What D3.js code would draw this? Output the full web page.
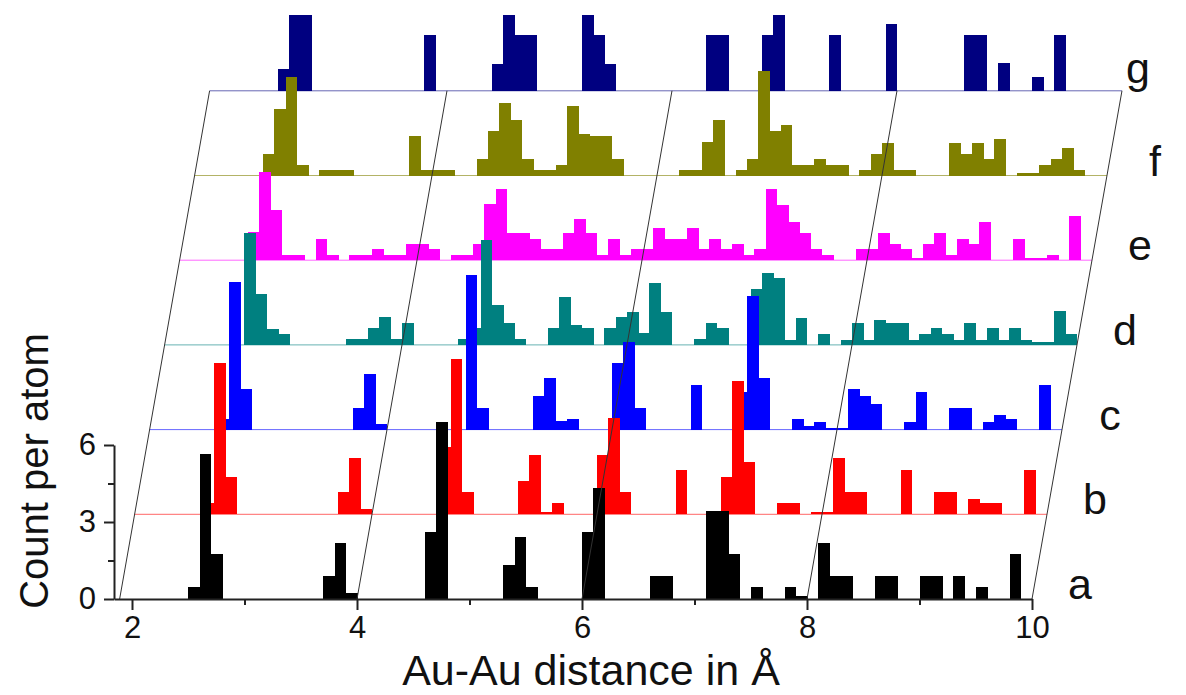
<!DOCTYPE html>
<html>
<head>
<meta charset="utf-8">
<script src="https://cdn.jsdelivr.net/npm/d3@7/dist/d3.min.js"></script>
<style>
  body { margin: 0; background: #fff; }
  text { font-family: "Liberation Sans", Arial, sans-serif; }
</style>
</head>
<body>
<script>
// Au-Au pair distance histograms, bins of 0.1 A, [bin start, count per atom]
const seriesA = [[2.5,0.46],[2.6,5.64],[2.7,1.75],[3.7,0.89],[3.8,2.19],[3.9,0.22],[4.6,2.62],[4.7,6.9],
  [5.3,1.32],[5.4,2.4],[5.5,0.45],[6.0,2.62],[6.1,4.33],[6.6,0.89],[6.7,0.89],[7.1,3.44],[7.2,3.44],
  [7.3,1.75],[7.5,0.45],[7.8,0.45],[7.9,0.12],[8.1,2.19],[8.2,0.89],[8.3,0.89],[8.6,0.89],[8.7,0.89],
  [9.0,0.89],[9.1,0.89],[9.3,0.89],[9.5,0.45],[9.8,1.75]];
const seriesB = [[2.5,0.45],[2.6,5.91],[2.7,1.46],[3.7,0.86],[3.8,2.18],[3.9,0.2],[4.6,2.63],[4.7,6.07],
  [4.8,0.86],[5.3,1.31],[5.4,2.3],[5.5,0.08],[5.6,0.43],[6.0,2.3],[6.1,3.74],[6.2,0.86],[6.7,1.72],
  [7.1,1.46],[7.2,5.19],[7.3,2.05],[7.6,0.43],[7.7,0.43],[7.9,0.08],[8.0,0.08],[8.1,2.18],[8.2,0.86],
  [8.3,0.86],[8.7,1.72],[9.0,0.86],[9.1,0.86],[9.3,0.6],[9.4,0.43],[9.5,0.43],[9.8,1.72]];
const seriesC = [[2.5,0.43],[2.6,5.74],[2.7,1.6],[3.7,0.86],[3.8,2.15],[3.9,0.2],[4.7,6.04],[4.8,0.86],
  [5.3,1.3],[5.4,2.02],[5.5,0.33],[5.6,0.43],[6.0,2.59],[6.1,3.41],[6.2,0.86],[6.7,1.72],[7.1,1.46],
  [7.2,5.22],[7.3,2.02],[7.6,0.43],[7.7,0.14],[7.8,0.3],[7.9,0.08],[8.0,0.08],[8.1,1.6],[8.2,1.3],
  [8.3,1.01],[8.6,0.3],[8.7,1.46],[9.0,0.86],[9.1,0.86],[9.3,0.3],[9.4,0.56],[9.5,0.43],[9.8,1.72]];
const seriesD = [[2.6,4.35],[2.7,1.97],[2.8,0.62],[2.9,0.42],[3.5,0.22],[3.6,0.22],[3.7,0.65],[3.8,1.08],
  [3.9,0.22],[4.0,0.87],[4.5,0.22],[4.6,0.65],[4.7,4.09],[4.8,1.56],[4.9,0.87],[5.0,0.22],[5.3,0.65],
  [5.4,1.88],[5.5,0.78],[5.6,0.65],[5.8,0.65],[5.9,1.08],[6.0,1.3],[6.1,0.46],[6.2,2.4],[6.3,1.3],
  [6.6,0.22],[6.7,0.87],[6.8,0.65],[7.1,2.17],[7.2,2.81],[7.3,2.62],[7.4,0.2],[7.5,1.06],[7.7,0.43],
  [7.9,0.2],[8.0,0.87],[8.1,0.2],[8.2,0.97],[8.3,0.87],[8.4,0.87],[8.5,0.2],[8.6,0.42],[8.7,0.65],
  [8.8,0.42],[8.9,0.2],[9.0,0.87],[9.1,0.2],[9.2,0.65],[9.3,0.2],[9.4,0.65],[9.5,0.2],[9.6,0.1],
  [9.7,0.1],[9.8,1.32],[9.9,0.42]];
const seriesE = [[2.5,1.08],[2.6,3.44],[2.7,1.95],[2.8,0.2],[2.9,0.2],[3.1,0.84],[3.2,0.2],[3.4,0.2],
  [3.5,0.2],[3.6,0.42],[3.7,0.2],[3.8,0.2],[3.9,0.62],[4.0,0.62],[4.1,0.42],[4.3,0.2],[4.4,0.2],
  [4.5,0.62],[4.6,2.18],[4.7,2.79],[4.8,1.06],[4.9,1.06],[5.0,0.84],[5.1,0.42],[5.2,0.42],[5.3,1.06],
  [5.4,1.62],[5.5,1.06],[5.6,0.2],[5.7,0.84],[5.8,0.2],[5.9,0.42],[6.0,0.42],[6.1,1.27],[6.2,0.84],
  [6.3,0.84],[6.4,1.27],[6.5,0.42],[6.6,0.84],[6.7,0.42],[6.8,0.62],[6.9,0.2],[7.0,0.42],[7.1,2.79],
  [7.2,2.14],[7.3,1.49],[7.4,1.06],[7.5,0.42],[7.6,0.2],[7.9,0.42],[8.0,0.42],[8.1,1.06],[8.2,0.62],
  [8.3,0.42],[8.4,0.1],[8.5,0.62],[8.6,1.06],[8.7,0.2],[8.8,0.84],[8.9,0.62],[9.0,1.49],[9.3,0.84],
  [9.4,0.07],[9.5,0.07],[9.6,0.2],[9.8,1.71]];
const seriesF = [[2.5,0.84],[2.6,2.6],[2.7,3.85],[2.8,0.42],[3.0,0.2],[3.1,0.2],[3.2,0.2],[3.8,1.52],
  [3.9,0.2],[4.0,0.2],[4.1,0.2],[4.4,0.64],[4.5,1.74],[4.6,2.82],[4.7,2.17],[4.8,0.64],[4.9,0.2],
  [5.0,0.2],[5.1,0.42],[5.2,2.71],[5.3,1.62],[5.4,1.52],[5.5,1.52],[5.6,0.64],[6.2,0.2],[6.3,0.2],
  [6.4,1.3],[6.5,2.17],[6.7,0.2],[6.8,0.64],[6.9,4.09],[7.0,1.74],[7.1,1.95],[7.2,0.42],[7.3,0.42],
  [7.4,0.64],[7.5,0.42],[7.6,0.42],[7.8,0.2],[7.9,0.84],[8.0,1.28],[8.1,0.2],[8.2,0.2],[8.6,1.28],
  [8.7,0.84],[8.8,1.28],[8.9,0.64],[9.0,1.42],[9.2,0.09],[9.3,0.09],[9.4,0.42],[9.5,0.64],[9.6,1.07],
  [9.7,0.2]];
const seriesG = [[2.5,0.84],[2.6,4.8],[2.7,4.8],[3.8,2.17],[4.4,1.04],[4.5,4.8],[4.6,2.17],[4.7,2.17],
  [5.2,4.8],[5.3,2.17],[5.4,1.04],[6.3,2.17],[6.4,2.17],[6.8,2.17],[6.9,4.8],[7.4,2.17],[7.9,2.6],
  [8.6,2.17],[8.7,2.17],[8.9,1.07],[9.2,0.52],[9.4,2.17]];

const allSeries = [seriesA, seriesB, seriesC, seriesD, seriesE, seriesF, seriesG];
const labels = ["a", "b", "c", "d", "e", "f", "g"];
const colors = ["#000000", "#ff0000", "#0000ff", "#008080", "#ff00ff", "#808000", "#000080"];
const xTicks = [2, 4, 6, 8, 10];
const xMinor = [3, 5, 7, 9];
const yTicks = [0, 3, 6];
const yMinor = [1.5, 4.5];
const frameLines = [1.89, 4, 6, 8, 10];

// offset between stacked curves (in data units)
const xStep = 0.1333;
const yStep = 3.3;
const binW = 0.1;

const width = 1186, height = 695;
const svg = d3.select("body").append("svg")
    .attr("width", width)
    .attr("height", height);

const x = d3.scaleLinear().domain([1.84, 10]).range([114, 1032]);
const y = d3.scaleLinear().domain([0, 6]).range([599, 445]);

svg.append("clipPath").attr("id", "clip")
  .append("rect").attr("x", 0).attr("y", 15).attr("width", width).attr("height", height);

// baselines of the shifted curves
const base = svg.append("g");
allSeries.forEach((s, k) => {
    if (k === 0) return;
    base.append("line")
        .attr("x1", x(frameLines[0] + k * xStep))
        .attr("x2", x(10 + k * xStep))
        .attr("y1", y(k * yStep))
        .attr("y2", y(k * yStep))
        .attr("stroke", colors[k])
        .attr("stroke-opacity", 0.6)
        .attr("stroke-width", 1);
});

// bars, top curve first so the lower ones sit in front
const bars = svg.append("g").attr("clip-path", "url(#clip)").attr("shape-rendering", "crispEdges");
for (let k = allSeries.length - 1; k >= 0; k--) {
    bars.append("g").selectAll("rect")
        .data(allSeries[k])
        .join("rect")
        .attr("x", d => x(d[0] + k * xStep))
        .attr("width", d => x(d[0] + binW + k * xStep) - x(d[0] + k * xStep) + 0.5)
        .attr("y", d => y(k * yStep + d[1]))
        .attr("height", d => y(k * yStep) - y(k * yStep + d[1]))
        .attr("fill", colors[k]);
}

// slanted frame lines
svg.append("g").selectAll("line")
    .data(frameLines)
    .join("line")
    .attr("x1", d => x(d))
    .attr("y1", y(0))
    .attr("x2", d => x(d + 6 * xStep))
    .attr("y2", y(6 * yStep))
    .attr("stroke", "#333")
    .attr("stroke-width", 1);

// axes
svg.append("g")
    .attr("transform", "translate(0," + y(0) + ")")
    .call(d3.axisBottom(x).tickValues(xTicks).tickSize(11).tickSizeOuter(0).tickPadding(6)
        .tickFormat(d3.format("d")));
svg.append("g")
    .attr("transform", "translate(0," + y(0) + ")")
    .call(d3.axisBottom(x).tickValues(xMinor).tickSize(6).tickSizeOuter(0).tickFormat(""))
    .select(".domain").remove();
svg.append("g")
    .attr("transform", "translate(114,0)")
    .call(d3.axisLeft(y).tickValues(yTicks).tickSize(10).tickSizeOuter(0).tickPadding(8)
        .tickFormat(d3.format("d")));
svg.append("g")
    .attr("transform", "translate(114,0)")
    .call(d3.axisLeft(y).tickValues(yMinor).tickSize(6).tickSizeOuter(0).tickFormat(""))
    .select(".domain").remove();

svg.selectAll(".domain, .tick line").attr("stroke", "#222").attr("stroke-width", 2);
svg.selectAll(".tick text")
    .style("font-size", "31px")
    .style("font-family", "'Liberation Sans', Arial, sans-serif")
    .attr("fill", "#111");

// curve labels
allSeries.forEach((s, k) => {
    svg.append("text")
        .attr("x", k === 6 ? x(10 + k * xStep) + 16 : x(10 + k * xStep) + 48)
        .attr("y", y(k * yStep) + (k === 6 ? -8 : 0))
        .attr("text-anchor", "middle")
        .attr("font-size", 43)
        .attr("fill", "#111")
        .text(labels[k]);
});

// axis titles
svg.append("text")
    .attr("x", 591)
    .attr("y", 685)
    .attr("text-anchor", "middle")
    .attr("font-size", 43)
    .attr("fill", "#111")
    .text("Au-Au distance in Å");

svg.append("text")
    .attr("transform", "translate(48,471) rotate(-90)")
    .attr("text-anchor", "middle")
    .attr("font-size", 40)
    .attr("fill", "#111")
    .text("Count per atom");
</script>
</body>
</html>
